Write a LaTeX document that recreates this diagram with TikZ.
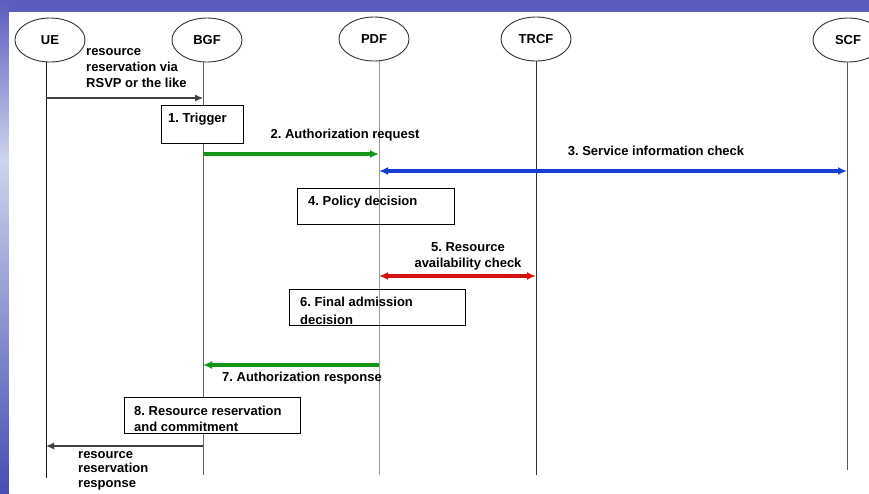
\documentclass[tikz,border=0pt]{standalone}
\usepackage{fontspec}
\setmainfont{Liberation Sans}
\usetikzlibrary{arrows.meta,shapes.geometric}
\definecolor{slideblue}{RGB}{92,92,190}
\definecolor{slidelight}{RGB}{205,212,236}
\definecolor{slidedeep}{RGB}{70,78,178}
\definecolor{msggreen}{RGB}{22,150,22}
\definecolor{msgblue}{RGB}{22,62,212}
\definecolor{msgred}{RGB}{212,20,20}
\frenchspacing
\begin{document}
\begin{tikzpicture}[x=1pt,y=-1pt,
  every node/.style={font=\fontsize{13}{16}\selectfont\bfseries},
  entity/.style={ellipse, draw=black!80, line width=0.9pt, minimum width=70pt,
                 minimum height=44pt, inner sep=0pt, fill=white},
  life/.style={line width=0.9pt},
  msg/.style={line width=1.1pt, draw=black!75, -{Latex[length=8pt,width=7pt]}},
  call/.style={line width=3.2pt, -{Latex[length=9pt,width=8pt]}},
  dcall/.style={line width=3.2pt, {Latex[length=9pt,width=8pt]}-{Latex[length=9pt,width=8pt]}},
  stepbox/.style={draw, line width=1.1pt, rectangle, inner sep=0pt, anchor=north west},
  txt/.style={align=left, inner sep=0pt, anchor=north west},
  looser/.style={font=\fontsize{13}{17.5}\selectfont\bfseries}
]
\useasboundingbox (0,0) rectangle (869,493);
\clip (0,0) rectangle (869,493);

% slide background
\fill[slideblue] (0,0) rectangle (869,493);
\shade[top color=slideblue, bottom color=slidelight] (0,0) rectangle (9,160);
\shade[top color=slidelight, bottom color=slidedeep] (0,160) rectangle (9,493);
\fill[white] (9,12) rectangle (869,493);

% entities
\node[entity] (ue)   at (50,40)  {UE};
\node[entity] (bgf)  at (207,40) {BGF};
\node[entity] (pdf)  at (374,39) {PDF};
\node[entity] (trcf) at (536,39) {TRCF};
\node[entity] (scf)  at (848,40) {SCF};

% lifelines
\coordinate (ueT) at (46,62);   \coordinate (ueB) at (46,478);
\coordinate (bgfT) at (203,62); \coordinate (bgfB) at (203,475);
\coordinate (pdfT) at (379,61); \coordinate (pdfB) at (379,475);
\coordinate (trcfT) at (536,61);\coordinate (trcfB) at (536,475);
\coordinate (scfT) at (847,62); \coordinate (scfB) at (847,470);
\draw[life, black!90] (ueT) -- (ueB);
\draw[life, black!60] (bgfT) -- (bgfB);
\draw[life, black!40] (pdfT) -- (pdfB);
\draw[life, black!80] (trcfT) -- (trcfB);
\draw[life, black!65] (scfT) -- (scfB);

% message anchors on the lifelines
\coordinate (ue1) at (46,98);    \coordinate (bgf1) at (203,98);
\coordinate (bgf2) at (203,154); \coordinate (pdf2) at (379,154);
\coordinate (pdf3) at (379,171); \coordinate (scf3) at (847,171);
\coordinate (pdf5) at (379,276); \coordinate (trcf5) at (536,276);
\coordinate (pdf7) at (379,365); \coordinate (bgf7) at (203,365);
\coordinate (bgf9) at (203,446); \coordinate (ue9) at (46,446);

% messages
\draw[msg] (ue1) -- (bgf1);
\node[txt] (l1) at (86,48) {resource\\reservation via\\RSVP or the like};

\node[stepbox, minimum width=82pt, minimum height=38pt, fill=white] (s1) at (161,105) {};
\node[txt] (t1) at (168,113) {1. Trigger};

\draw[call, msggreen] (bgf2) -- (pdf2);
\node[inner sep=0pt, anchor=north] (l2) at (345,129) {2. Authorization request};

\draw[dcall, msgblue] (pdf3) -- (scf3);
\node[inner sep=0pt, anchor=north] (l3) at (656,146) {3. Service information check};

\node[stepbox, minimum width=157pt, minimum height=36pt] (s4) at (297,188) {};
\node[txt] (t4) at (308,196) {4. Policy decision};

\node[inner sep=0pt, anchor=north, align=center] (l5) at (468,242) {5. Resource\\availability check};
\draw[dcall, msgred] (pdf5) -- (trcf5);

\node[stepbox, minimum width=176pt, minimum height=36pt] (s6) at (289,289) {};
\node[txt, looser] (t6) at (300,297) {6. Final admission\\decision};

\draw[call, msggreen] (pdf7) -- (bgf7);
\node[txt] (l7) at (222,372) {7. Authorization response};

\node[stepbox, minimum width=176pt, minimum height=36pt, fill=white] (s8) at (124,397) {};
\node[txt] (t8) at (134,406) {8. Resource reservation\\and commitment};

\draw[msg] (bgf9) -- (ue9);
\node[txt, font=\fontsize{13}{14.5}\selectfont\bfseries] (l9) at (78,451) {resource\\reservation\\response};
\end{tikzpicture}
\end{document}
